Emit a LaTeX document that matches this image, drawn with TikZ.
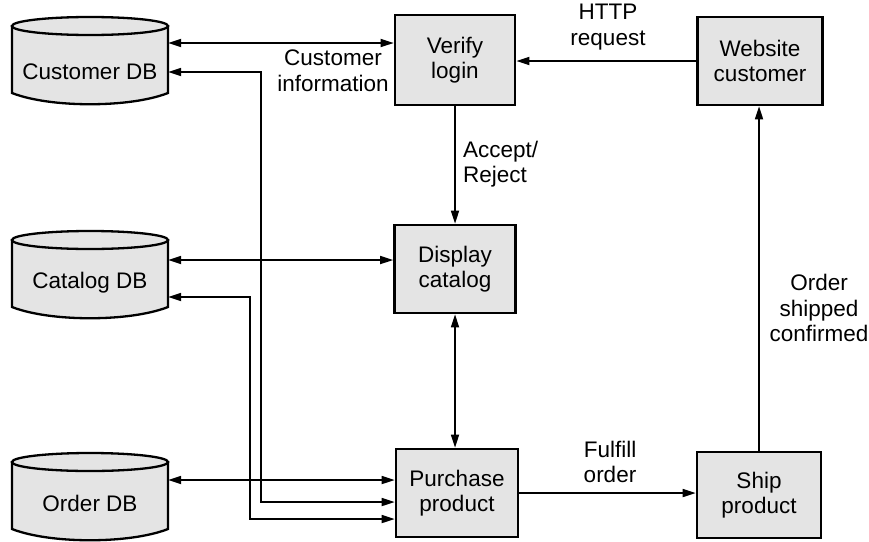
\documentclass[tikz,border=0pt]{standalone}
\usepackage{fontspec}
\setmainfont{Liberation Sans}
\usetikzlibrary{arrows.meta,calc}
\definecolor{boxfill}{HTML}{E4E4E4}
\tikzset{
  txt/.style={font=\fontsize{22.5}{25.5}\selectfont},
  box/.style={txt, draw, line width=2.6pt, fill=boxfill, minimum width=121pt, minimum height=88pt, align=center, inner sep=0pt},
  lbl/.style={txt, align=center, inner sep=0pt},
  conn/.style={line width=1.7pt, -{Triangle[length=13pt,width=8pt]}},
  biconn/.style={line width=1.7pt, {Triangle[length=13pt,width=8pt]}-{Triangle[length=13pt,width=8pt]}},
  dbshape/.style={line width=2.3pt, fill=boxfill, line join=miter},
  dbtext/.style={txt, minimum width=156pt, inner sep=0pt}
}
\newcommand{\dbcylinder}[1]{%
  \begin{scope}[shift={(#1)}]
    \draw[dbshape] (-78,0) -- (-78,67) .. controls (-40,82) and (40,82) .. (78,67) -- (78,0) -- cycle;
    \draw[dbshape] (0,0) ellipse [x radius=78, y radius=9];
  \end{scope}}
\begin{document}
\begin{tikzpicture}[x=1pt,y=-1pt]
\useasboundingbox (0,0) rectangle (869,541);
% databases
\dbcylinder{90,26}
\dbcylinder{90,240}
\dbcylinder{90,462}
\node[dbtext] (cust) at (90,72) {Customer DB};
\node[dbtext] (cat) at (90,283) {Catalog DB};
\node[dbtext] (ord) at (90,503) {Order DB};
% process boxes
\node[box, minimum width=120pt, minimum height=90pt] (verify) at (455,60) {Verify\\login};
\node[box, minimum width=125pt] (website) at (760,61) {Website\\customer};
\node[box] (display) at (455,269) {Display\\catalog};
\node[box, minimum width=122pt] (purchase) at (457,493) {Purchase\\product};
\node[box, minimum width=124pt, minimum height=86pt] (ship) at (759,495) {Ship\\product};
% helper coordinates
\coordinate (c1) at ([yshift=29pt]cust.east);
\coordinate (c2) at ([yshift=23pt]cat.east);
\coordinate (c3) at ([yshift=-14pt]cat.east);
\coordinate (c4) at ([yshift=23pt]ord.east);
\coordinate (p1) at ([yshift=-9pt]purchase.west);
\coordinate (p2) at ([yshift=-26pt]purchase.west);
\coordinate (busA) at (261,0);
\coordinate (busB) at (250,0);
% connectors
\draw[biconn] (c1) -- (c1 -| verify.west);
\draw[biconn] (cust.east) -| (busA |- p1) -- (p1);
\draw[biconn] (c2) -- (c2 -| display.west);
\draw[biconn] (c3) -| (busB |- p2) -- (p2);
\draw[biconn] (c4) -- (c4 -| purchase.west);
\draw[conn] (website.west) -- (website.west -| verify.east);
\draw[conn] (verify.south) -- (verify.south |- display.north);
\draw[biconn] (display.south) -- (display.south |- purchase.north);
\draw[conn] (purchase.east) -- (purchase.east -| ship.west);
\draw[conn] (ship.north) -- (ship.north |- website.south);
% labels
\node[lbl] (custinfo) at (333,71) {Customer\\information};
\node[lbl] (http) at (608,27) {HTTP\\request};
\node[lbl, align=left, anchor=west] (accept) at (463,164) {Accept/\\Reject};
\node[lbl] (fulfill) at (610,462) {Fulfill\\order};
\node[lbl] (shipped) at (819,308) {Order\\shipped\\confirmed};
\end{tikzpicture}
\end{document}
